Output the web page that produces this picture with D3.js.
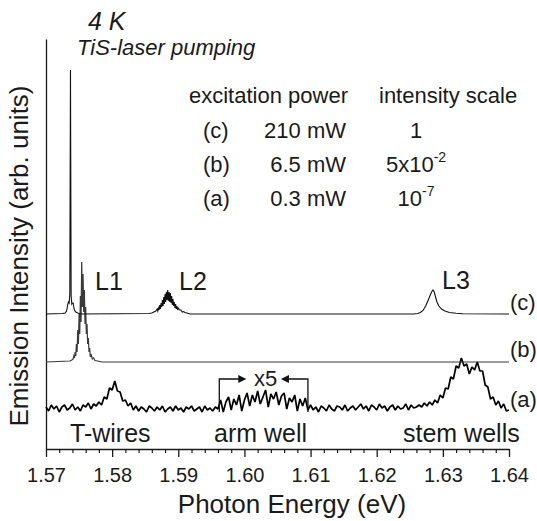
<!DOCTYPE html>
<html>
<head>
<meta charset="utf-8">
<script src="https://cdn.jsdelivr.net/npm/d3@7"></script>
<style>
  body { margin: 0; background: #fff; }
  svg { font-family: "Liberation Sans", Arial, sans-serif; }
</style>
</head>
<body>
<svg id="chart" width="537" height="521"></svg>
<script>
// Energy axis ticks (eV)
const majorTicks = [1.57, 1.58, 1.59, 1.60, 1.61, 1.62, 1.63, 1.64];
const minorTicks = d3.range(1.572, 1.6401, 0.002).filter(t => Math.abs(t * 100 - Math.round(t * 100)) > 1e-6);

// Spectrum (a), 0.3 mW, sampled from 1.570 eV every 0.0004 eV (x5 between arm well marks)
const aStart = 1.570;
const aStep = 0.0004;
const aValues = [
  1, -3, 3, -1, 2, -4, 1, 3, -2, 0, 4, -2, 1, -3, 3, 1, 5, -1, 4, 2,
  6, 3, 11, 9, 20, 18, 27, 17, 16, 7, 8, 2, 5,
  -2, 2, -3, 1, -1, -4, 2, 0, -3, 1, -2, 2, -4, -1, 1, -3, 2, -2, 0, -4, 1, -1, 2, -3, -1, 1, -4, 2, -2, 0, -3, 1, -1,
  8, -4, 6, 11, -2, 9, 3, 13, -3, 8, 15, 2, 13, 6, 17, 4, 11, 18, 1, 14, 9, 16, 3, 12, 15, -1, 10, 6, 13, -3, 9, 2, 10, -2,
  3, -2, 1, -4, 2, 0, -3, 3, -1, -3, 2, 1, -2, 3, -3, 0, 2, -2, 1, 4, -1, 2, -3, 3, 1, -2, 4, 0, 2, -3, 1, 3, -2, 2, -1, 0, 4, -2, 3, 0, 1,
  3, 1, 5, 2, 6, 3, 8, 5, 13, 10, 20, 19, 31, 29, 42, 40, 50, 42, 44, 34, 41, 38, 46, 37, 37, 23, 21, 9, 11, 3, 7, 0, 4, -3, -2
];

// Spectrum (b), 6.5 mW, [energy eV, intensity]
const bPoints = [
  [1.5700, 0], [1.5736, 1], [1.5739, 2], [1.5741, 3], [1.5742, 6], [1.5743, 4], [1.5744, 10],
  [1.5745, 6], [1.5746, 18], [1.5747, 10], [1.5748, 32], [1.5749, 18], [1.5750, 48], [1.5751, 28],
  [1.5752, 66], [1.5753, 40], [1.5754, 100], [1.5755, 55], [1.5756, 88], [1.5757, 50], [1.5758, 72],
  [1.5759, 38], [1.5760, 55], [1.5761, 28], [1.5762, 38], [1.5763, 18], [1.5764, 24], [1.5765, 10],
  [1.5766, 14], [1.5767, 5], [1.5768, 8], [1.5770, 3], [1.5772, 4], [1.5774, 1.5], [1.5778, 1],
  [1.5785, 0], [1.6400, 0]
];

// Spectrum (c), 210 mW, [energy eV, intensity]
const cPoints = [
  [1.5700, 0], [1.5725, 0.5], [1.5729, 1], [1.5731, 3], [1.5732, 6], [1.5733, 10], [1.5734, 12],
  [1.5735, 11], [1.5736, 20], [1.5737, 244], [1.5738, 18], [1.5739, 10], [1.5740, 11], [1.5741, 11],
  [1.5742, 7], [1.5743, 4], [1.5745, 2], [1.5748, 1], [1.5752, 0],
  [1.5856, 0.5], [1.5860, 1], [1.5863, 2], [1.5866, 3], [1.5868, 5], [1.5869, 3], [1.5870, 6],
  [1.5871, 4], [1.5872, 9], [1.5873, 5], [1.5874, 11], [1.5875, 7], [1.5876, 14], [1.5877, 8],
  [1.5878, 17], [1.5879, 10], [1.5880, 20], [1.5881, 12], [1.5882, 22], [1.5883, 14], [1.5884, 24],
  [1.5885, 13], [1.5886, 22], [1.5887, 12], [1.5888, 21], [1.5889, 11], [1.5890, 18], [1.5891, 9],
  [1.5892, 15], [1.5893, 8], [1.5894, 12], [1.5895, 6], [1.5896, 10], [1.5897, 5], [1.5898, 8],
  [1.5899, 4], [1.5900, 6], [1.5902, 4], [1.5904, 4], [1.5906, 2], [1.5908, 2.5], [1.5910, 1.5],
  [1.5913, 1], [1.5918, 0],
  [1.6255, 0], [1.6262, 0.5], [1.6266, 1.5], [1.6270, 3.5], [1.6274, 8], [1.6278, 14], [1.6281, 19],
  [1.6283, 22], [1.6285, 24], [1.6287, 22], [1.6289, 17], [1.6291, 12], [1.6294, 8], [1.6298, 5],
  [1.6303, 3], [1.6310, 1.5], [1.6320, 0.8], [1.6330, 0.3], [1.6400, 0]
];

// vertical offsets of the stacked spectra
const seriesNames = ['(a)', '(b)', '(c)'];
const seriesOffsets = [41, 87, 135];

// x5 magnified range (eV)
const x5Range = [1.5962, 1.6096];

// legend table
const legendLabels = ['(c)', '(b)', '(a)'];
const legendPowers = ['210 mW', '6.5 mW', '0.3 mW'];
const legendScales = [['1', ''], ['5x10', '-2'], ['10', '-7']];

const peakLabels = [['L1', 95, 290], ['L2', 179, 290], ['L3', 442, 289]];
const regionLabels = [['T-wires', 70], ['arm well', 214], ['stem wells', 403]];

const svg = d3.select('#chart');
const x = d3.scaleLinear().domain([1.57, 1.64]).range([46, 509]);
const y = d3.scaleLinear().domain([0, 410]).range([449, 39]);
const ink = '#1a1a1a';

// axes
const xAxis = svg.append('g')
  .attr('transform', `translate(0, ${y(0)})`)
  .call(d3.axisBottom(x).tickValues(majorTicks).tickSize(8).tickSizeOuter(0)
    .tickPadding(11).tickFormat(d3.format('.2f')));
xAxis.selectAll('text').attr('font-size', 20).attr('font-family', '"Liberation Sans", Arial, sans-serif').attr('fill', ink);
xAxis.selectAll('line, path').attr('stroke', ink).attr('stroke-width', 1.3);

svg.append('g')
  .attr('transform', `translate(0, ${y(0)})`)
  .call(d3.axisBottom(x).tickValues(minorTicks).tickSize(4).tickFormat(''))
  .call(g => g.select('.domain').remove())
  .selectAll('line').attr('stroke', ink).attr('stroke-width', 1.2);

svg.append('g')
  .attr('transform', `translate(${x(1.57)}, 0)`)
  .call(d3.axisLeft(y).tickValues([]).tickSizeOuter(0))
  .selectAll('path').attr('stroke', ink).attr('stroke-width', 1.3);

// spectra
const line = d3.line().x(d => x(d[0])).y(d => y(d[1]));
const aPoints = aValues.map((v, i) => [aStart + i * aStep, v]);

svg.append('path')
  .datum(aPoints.map(d => [d[0], d[1] + seriesOffsets[0]]))
  .attr('d', line).attr('fill', 'none').attr('stroke', '#000').attr('stroke-width', 1.7)
  .attr('stroke-linejoin', 'bevel');
svg.append('path')
  .datum(bPoints.map(d => [d[0], d[1] + seriesOffsets[1]]))
  .attr('d', line).attr('fill', 'none').attr('stroke', '#3a3a3a').attr('stroke-width', 1.2);
svg.append('path')
  .datum(cPoints.map(d => [d[0], d[1] + seriesOffsets[2]]))
  .attr('d', line).attr('fill', 'none').attr('stroke', '#111').attr('stroke-width', 1.1);

// curve labels on the right
const labelShift = [-1, -5, -4];
svg.selectAll('.curve-label')
  .data(seriesNames)
  .join('text')
  .attr('x', 510)
  .attr('y', (d, i) => y(seriesOffsets[i]) + labelShift[i])
  .attr('font-size', 22).attr('fill', ink)
  .text(d => d);

// x5 brackets
const bTop = y(seriesOffsets[0] + 29), bBot = y(seriesOffsets[0] - 4);
[[x5Range[0], 1], [x5Range[1], -1]].forEach(([e, dir]) => {
  const px = x(e);
  svg.append('path')
    .attr('d', `M${px},${bBot}V${bTop}H${px + dir * 22}`)
    .attr('fill', 'none').attr('stroke', '#111').attr('stroke-width', 1.3);
  svg.append('path')
    .attr('d', `M${px + dir * 27},${bTop}l${-dir * 8},-4v8z`)
    .attr('fill', '#111');
});
svg.append('text')
  .attr('x', (x(x5Range[0]) + x(x5Range[1])) / 2 + 2)
  .attr('y', 386).attr('text-anchor', 'middle')
  .attr('font-size', 22).attr('fill', ink).text('x5');

// peak and region labels
svg.selectAll('.peak')
  .data(peakLabels).join('text')
  .attr('x', d => d[1]).attr('y', d => d[2])
  .attr('font-size', 25).attr('fill', ink).text(d => d[0]);

svg.selectAll('.region')
  .data(regionLabels).join('text')
  .attr('x', d => d[1]).attr('y', 442)
  .attr('font-size', 25).attr('fill', ink).text(d => d[0]);

// titles
svg.append('text')
  .attr('x', 88).attr('y', 30)
  .attr('font-size', 25).attr('font-style', 'italic').attr('fill', ink).text('4 K');
svg.append('text')
  .attr('x', 77).attr('y', 55)
  .attr('font-size', 22).attr('font-style', 'italic').attr('fill', ink).text('TiS-laser pumping');

// legend table
svg.append('text').attr('x', 189).attr('y', 103).attr('font-size', 22).attr('fill', ink).text('excitation power');
svg.append('text').attr('x', 379).attr('y', 103).attr('font-size', 22).attr('fill', ink).text('intensity scale');

legendLabels.forEach((lab, i) => {
  const yy = 138 + i * 34;
  svg.append('text').attr('x', 203).attr('y', yy).attr('font-size', 22).attr('fill', ink).text(lab);
  svg.append('text').attr('x', 346).attr('y', yy).attr('text-anchor', 'end')
    .attr('font-size', 22).attr('fill', ink).text(legendPowers[i]);
  const t = svg.append('text').attr('x', 416).attr('y', yy).attr('text-anchor', 'middle')
    .attr('font-size', 22).attr('fill', ink);
  t.append('tspan').text(legendScales[i][0]);
  if (legendScales[i][1]) {
    t.append('tspan').attr('dy', -10).attr('font-size', 14).text(legendScales[i][1]);
  }
});

// axis titles
svg.append('text')
  .attr('x', 292).attr('y', 513).attr('text-anchor', 'middle')
  .attr('font-size', 26).attr('fill', ink).text('Photon Energy (eV)');
svg.append('text')
  .attr('transform', 'translate(28, 256) rotate(-90)')
  .attr('text-anchor', 'middle')
  .attr('font-size', 26).attr('fill', ink).text('Emission Intensity (arb. units)');
</script>
</body>
</html>
